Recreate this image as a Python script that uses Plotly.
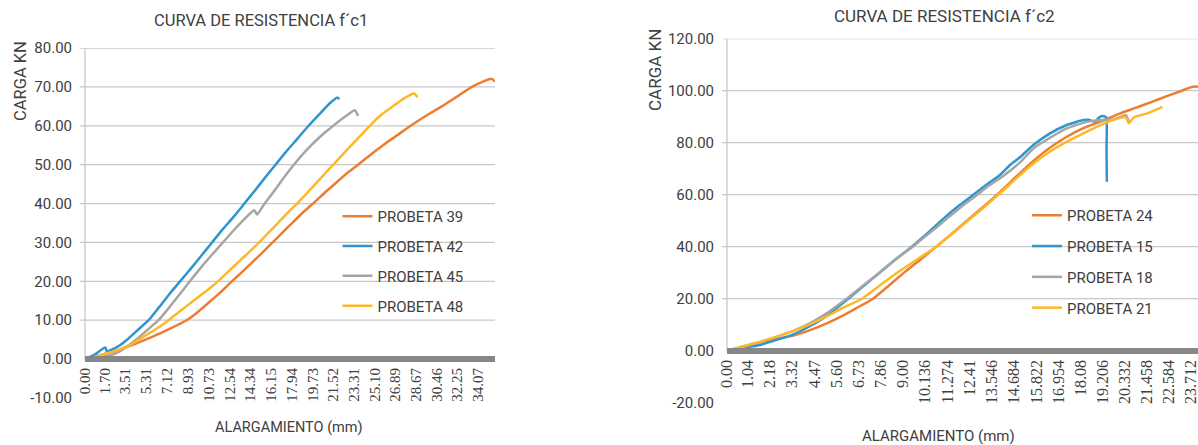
import plotly.graph_objects as go

W, H = 1198, 445

# ---------------- data: chart 1 ----------------
c1_title = "CURVA DE RESISTENCIA f´c1"
c1_xticks = ["0.00", "1.70", "3.51", "5.31", "7.12", "8.93", "10.73", "12.54", "14.34",
             "16.15", "17.94", "19.73", "21.52", "23.31", "25.10", "26.89", "28.67",
             "30.46", "32.25", "34.07"]
c1_yticks = [-10, 0, 10, 20, 30, 40, 50, 60, 70, 80]

p39_x = [0, 0.9, 1.7, 2.6, 3.5, 4.4, 5.23, 6.1, 7.0, 7.9, 8.8, 9.8, 10.7, 11.7, 12.65, 13.7,
         14.7, 15.7, 16.65, 17.7, 18.8, 19.93, 20.8, 21.65, 22.6, 23.65, 24.7, 25.8, 27.0,
         28.2, 29.5, 30.9, 32.2, 33.5, 34.4, 35.2, 35.5]
p39_y = [0, 0.6, 1.3, 2.1, 3.0, 4.0, 5.0, 6.1, 7.3, 8.6, 10.0, 12.2, 14.5, 17.1, 19.8, 22.7,
         25.5, 28.4, 31.2, 34.3, 37.5, 40.5, 42.9, 45.1, 47.6, 50.0, 52.5, 55.0, 57.5,
         60.0, 62.5, 65.0, 67.5, 70.0, 71.3, 72.1, 71.4]

p42_x = [0, 0.9, 1.75, 1.9, 2.2, 3.0, 3.6, 4.5, 5.51, 6.4, 7.3, 8.23, 9.2, 10.1, 11.0, 11.9,
         12.9, 13.8, 14.7, 15.6, 16.5, 17.4, 18.4, 19.36, 20.3, 21.2, 21.85, 22.02]
p42_y = [0, 1.3, 3.0, 2.0, 2.3, 3.5, 4.9, 7.3, 10.0, 13.3, 16.7, 20.0, 23.4, 26.7, 30.0, 33.3,
         36.7, 40.0, 43.3, 46.7, 50.0, 53.3, 56.7, 60.0, 63.0, 65.8, 67.3, 66.8]

p45_x = [0, 1.0, 2.2, 3.0, 3.6, 4.5, 5.4, 6.37, 7.3, 8.2, 9.08, 10.0, 10.95, 11.94, 12.9,
         13.8, 14.65, 14.9, 15.55, 16.4, 17.2, 18.08, 19.2, 20.4, 21.5, 22.5, 23.36, 23.65]
p45_y = [0, 0.5, 1.0, 2.0, 3.2, 5.2, 7.5, 10.0, 13.3, 16.7, 20.0, 23.4, 26.7, 30.0, 33.2,
         36.0, 38.3, 37.2, 40.0, 43.3, 46.6, 50.0, 53.8, 57.3, 60.0, 62.3, 64.0, 62.5]

p48_x = [0, 0.9, 1.7, 2.6, 3.5, 4.4, 5.3, 6.3, 7.23, 8.3, 9.4, 10.5, 11.51, 12.4, 13.3, 14.2,
         15.08, 15.9, 16.7, 17.5, 18.36, 19.2, 20.0, 20.8, 21.5, 22.3, 23.1, 23.9, 24.65,
         25.6, 26.65, 27.6, 28.5, 28.79]
p48_y = [0, 0.6, 1.3, 2.1, 3.0, 4.5, 6.2, 8.0, 10.0, 12.5, 15.0, 17.5, 20.0, 22.5, 25.0, 27.5,
         30.0, 32.5, 35.0, 37.5, 40.0, 42.6, 45.2, 47.8, 50.0, 52.6, 55.1, 57.6, 60.0,
         62.7, 65.0, 67.0, 68.3, 67.3]

# ---------------- data: chart 2 ----------------
c2_title = "CURVA DE RESISTENCIA f´c2"
c2_xticks = ["0.00", "1.04", "2.18", "3.32", "4.47", "5.60", "6.73", "7.86", "9.00", "10.136",
             "11.274", "12.41", "13.546", "14.684", "15.822", "16.954", "18.08", "19.206",
             "20.332", "21.458", "22.584", "23.712"]
c2_yticks = [-20, 0, 20, 40, 60, 80, 100, 120]

p24_x = [0, 0.8, 1.7, 2.6, 3.4, 4.25, 5.1, 5.8, 6.6, 7.47, 8.3, 9.1, 9.9, 10.7, 11.5, 12.3,
         13.1, 13.96, 14.8, 15.67, 16.5, 17.38, 18.2, 19.1, 20.0, 20.82, 21.7, 22.53, 23.2,
         23.56, 23.9, 24.09]
p24_y = [0, 1.3, 3.2, 4.6, 5.8, 7.9, 10.5, 13.0, 16.3, 20.0, 25.2, 30.3, 35.1, 40.0, 45.0, 50.2,
         55.3, 61.0, 67.0, 73.0, 78.0, 82.3, 85.5, 88.1, 91.0, 93.2, 95.6, 98.0, 99.8,
         100.9, 101.6, 101.5]

p15_x = [0, 0.8, 1.7, 2.6, 3.4, 4.25, 5.1, 6.2, 7.0, 7.8, 8.6, 9.45, 10.3, 11.1, 11.9, 12.6,
         13.3, 13.96, 14.48, 15.0, 15.67, 16.5, 17.38, 18.23, 18.5, 18.83, 19.0, 19.17, 19.39,
         19.41, 19.43]
p15_y = [0, 1.2, 2.2, 4.3, 6.3, 9.5, 13.4, 20.0, 25.0, 30.0, 35.0, 40.0, 45.5, 51.0, 56.0, 60.0,
         64.0, 67.6, 71.4, 74.5, 79.1, 83.5, 86.8, 88.7, 88.8, 88.1, 89.5, 90.3, 89.8,
         77.4, 65.0]

p18_x = [0, 0.8, 1.7, 2.6, 3.4, 4.25, 5.1, 6.2, 7.0, 7.8, 8.6, 9.5, 10.4, 11.2, 12.0, 12.8,
         13.4, 13.96, 15.0, 15.67, 16.5, 17.38, 18.4, 19.1, 19.8, 20.4, 20.55]
p18_y = [0, 1.5, 3.3, 5.5, 7.6, 10.6, 14.4, 20.5, 25.3, 30.0, 35.0, 40.0, 45.5, 50.5, 55.5, 60.0,
         63.5, 66.3, 72.5, 77.8, 81.8, 85.5, 88.0, 88.7, 89.0, 90.6, 88.1]

p21_x = [0, 0.8, 1.7, 2.6, 3.4, 4.25, 5.1, 5.8, 6.9, 7.8, 8.7, 9.7, 10.7, 11.6, 12.4, 13.2,
         13.96, 14.8, 15.67, 16.5, 17.38, 18.2, 19.1, 19.8, 20.4, 20.55, 20.82, 21.5, 22.27]
p21_y = [0, 1.6, 3.5, 5.5, 7.6, 10.2, 13.2, 16.0, 20.0, 25.0, 30.0, 35.0, 40.0, 45.5, 50.5, 55.5,
         60.5, 66.3, 72.0, 76.5, 80.4, 83.5, 86.8, 88.9, 89.8, 87.5, 89.8, 91.3, 93.8]

RED, BLUE, GRAY, GOLD = "#ED7D31", "#2E96CC", "#A5A5A5", "#FDB827"

# ---------------- layout geometry (pixels) ----------------
def px(v):
    return v / W

def py(v):
    return 1 - v / H

c1_xdom = [px(85), px(495)]
c1_ydom = [py(398), py(48)]
c2_xdom = [px(727), 1.0]
c2_ydom = [py(402.7), py(38.7)]

c1_xrange = [0, 35.5]
c2_xrange = [0, 24.09]
c1_yrange = [c1_yticks[0], c1_yticks[-1]]
c2_yrange = [c2_yticks[0], c2_yticks[-1]]

def zero_pos(dom, rng):
    return dom[0] + (0 - rng[0]) / (rng[1] - rng[0]) * (dom[1] - dom[0])

fig = go.Figure()

c1_series = [("PROBETA 39", p39_x, p39_y, RED), ("PROBETA 42", p42_x, p42_y, BLUE),
             ("PROBETA 45", p45_x, p45_y, GRAY), ("PROBETA 48", p48_x, p48_y, GOLD)]
c2_series = [("PROBETA 24", p24_x, p24_y, RED), ("PROBETA 15", p15_x, p15_y, BLUE),
             ("PROBETA 18", p18_x, p18_y, GRAY), ("PROBETA 21", p21_x, p21_y, GOLD)]

for name, xs, ys, col in c1_series:
    fig.add_trace(go.Scatter(x=xs, y=ys, name=name, mode="lines", xaxis="x", yaxis="y",
                             line=dict(color=col, width=2.5, shape="spline", smoothing=0.5),
                             legend="legend", legendgroup=name))
for name, xs, ys, col in c2_series:
    fig.add_trace(go.Scatter(x=xs, y=ys, name=name, mode="lines", xaxis="x2", yaxis="y2",
                             line=dict(color=col, width=2.5, shape="spline", smoothing=0.5),
                             legend="legend2", legendgroup=name))

GRID = "#C8C8C8"
TXT = "#404040"
SANS = "Roboto"
SERIF = "Liberation Serif"

# gridlines (only at and above zero) and y axis line
for xref, yref, ticks, xlen in (("x domain", "y", c1_yticks, 410), ("x2 domain", "y2", c2_yticks, 471)):
    for t in ticks:
        if t > 0:
            fig.add_shape(type="line", xref=xref, yref=yref, x0=-5 / xlen, x1=1, y0=t, y1=t,
                          line=dict(color=GRID, width=1.3), layer="below")
    fig.add_shape(type="line", xref=xref, yref=yref, x0=0, x1=0, y0=0, y1=ticks[-1],
                  line=dict(color=GRID, width=1.3), layer="below")

fig.update_layout(
    width=W, height=H, margin=dict(l=0, r=0, t=0, b=0, autoexpand=False),
    paper_bgcolor="white", plot_bgcolor="white",
    font=dict(family=SANS, color=TXT),
    xaxis=dict(domain=c1_xdom, range=c1_xrange, anchor="free", automargin=False,
               position=zero_pos(c1_ydom, c1_yrange),
               tickmode="array", tickvals=[float(t) for t in c1_xticks], ticktext=c1_xticks,
               tickangle=-90, tickfont=dict(family=SERIF, size=15, color=TXT),
               showgrid=False, zeroline=False, showline=True, linecolor="#878787",
               linewidth=6, ticks="", ticklabeloverflow="allow"),
    yaxis=dict(domain=c1_ydom, range=c1_yrange, anchor="x", automargin=False,
               tickmode="array", tickvals=c1_yticks, ticktext=[f"{t:.2f}" for t in c1_yticks],
               tickfont=dict(family=SANS, size=15, color=TXT), showgrid=False,
               zeroline=False, showline=False, ticks="", ticklabelstandoff=12),
    xaxis2=dict(domain=c2_xdom, range=c2_xrange, anchor="free", automargin=False,
                position=zero_pos(c2_ydom, c2_yrange),
                tickmode="array", tickvals=[float(t) for t in c2_xticks], ticktext=c2_xticks,
                tickangle=-90, tickfont=dict(family=SERIF, size=16, color=TXT),
                showgrid=False, zeroline=False, showline=True, linecolor="#878787",
                linewidth=6, ticks="", ticklabeloverflow="allow"),
    yaxis2=dict(domain=c2_ydom, range=c2_yrange, anchor="x2", automargin=False,
                tickmode="array", tickvals=c2_yticks, ticktext=[f"{t:.2f}" for t in c2_yticks],
                tickfont=dict(family=SANS, size=15, color=TXT), showgrid=False,
                zeroline=False, showline=False, ticks="", ticklabelstandoff=12),
    legend=dict(x=px(337.5), y=py(200), xanchor="left", yanchor="top",
                font=dict(family=SANS, size=15, color=TXT), bgcolor="rgba(0,0,0,0)",
                tracegroupgap=7.3),
    legend2=dict(x=px(1027), y=py(199), xanchor="left", yanchor="top",
                 font=dict(family=SANS, size=15, color=TXT), bgcolor="rgba(0,0,0,0)",
                 tracegroupgap=8.3),
    showlegend=True,
)

ann = [
    (c1_title, 261, 20, 0, 16.5),
    (c2_title, 944, 16, 0, 17),
    ("ALARGAMIENTO (mm)", 289, 427, 0, 14.5),
    ("ALARGAMIENTO (mm)", 938, 436, 0, 15),
    ("CARGA KN", 21, 81, -90, 16.5),
    ("CARGA KN", 655, 70, -90, 17),
]
for text, ax_, ay_, ang, sz in ann:
    fig.add_annotation(text=text, xref="paper", yref="paper", x=px(ax_), y=py(ay_),
                       xanchor="center", yanchor="middle", showarrow=False, textangle=ang,
                       font=dict(family=SANS, size=sz, color=TXT))

fig.write_html("out.html", config={"displayModeBar": False},
               post_script="document.body.style.margin='0';")
